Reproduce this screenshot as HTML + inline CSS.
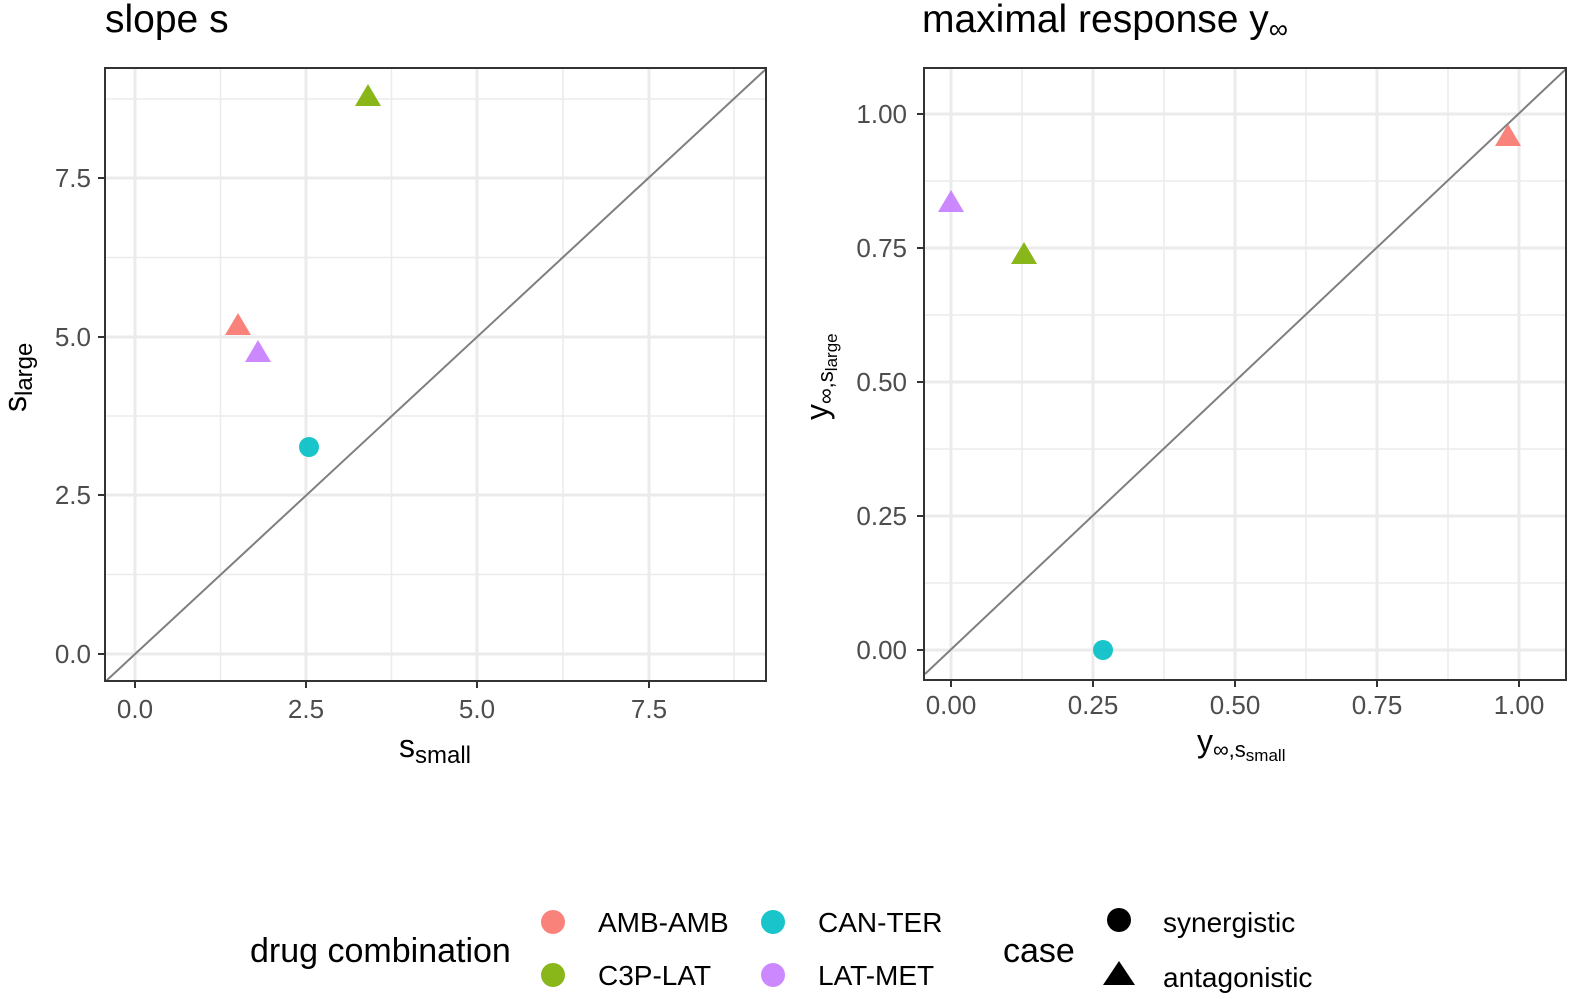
<!DOCTYPE html>
<html><head><meta charset="utf-8"><style>body{margin:0;background:#fff}svg{display:block}text{font-family:"Liberation Sans",sans-serif}</style></head><body>
<svg width="1577" height="1000" viewBox="0 0 1577 1000" xmlns="http://www.w3.org/2000/svg">
<rect width="1577" height="1000" fill="#fff"/>
<!-- Left panel -->
<text x="105" y="32" font-size="39" fill="#000">slope s</text>
<g stroke="#ebebeb" stroke-width="1.5">
<line x1="220.5" y1="69" x2="220.5" y2="681"/><line x1="391.5" y1="69" x2="391.5" y2="681"/><line x1="563" y1="69" x2="563" y2="681"/><line x1="734" y1="69" x2="734" y2="681"/>
<line x1="106" y1="574.5" x2="766" y2="574.5"/><line x1="106" y1="416" x2="766" y2="416"/><line x1="106" y1="257.5" x2="766" y2="257.5"/><line x1="106" y1="99" x2="766" y2="99"/>
</g>
<g stroke="#ebebeb" stroke-width="3">
<line x1="135" y1="69" x2="135" y2="681"/><line x1="306" y1="69" x2="306" y2="681"/><line x1="477" y1="69" x2="477" y2="681"/><line x1="649" y1="69" x2="649" y2="681"/>
<line x1="106" y1="654" x2="766" y2="654"/><line x1="106" y1="495" x2="766" y2="495"/><line x1="106" y1="337" x2="766" y2="337"/><line x1="106" y1="178" x2="766" y2="178"/>
</g>
<line x1="106" y1="681" x2="766" y2="69" stroke="#7f7f7f" stroke-width="2"/>
<polygon points="238,313 251,335 225,335" fill="#F8766D" opacity="0.9"/>
<polygon points="258,340 271,362 245,362" fill="#C77CFF" opacity="0.9"/>
<polygon points="368,84 381,106 355,106" fill="#7CAE00" opacity="0.9"/>
<circle cx="309" cy="447" r="10" fill="#00BFC4" opacity="0.9"/>
<rect x="105" y="68" width="661" height="613" fill="none" stroke="#333" stroke-width="2"/>
<g stroke="#333" stroke-width="2"><line x1="135" y1="681" x2="135" y2="688"/><line x1="306" y1="681" x2="306" y2="688"/><line x1="477" y1="681" x2="477" y2="688"/><line x1="649" y1="681" x2="649" y2="688"/>
<line x1="98" y1="654" x2="105" y2="654"/><line x1="98" y1="495" x2="105" y2="495"/><line x1="98" y1="337" x2="105" y2="337"/><line x1="98" y1="178" x2="105" y2="178"/></g>
<g font-size="26" fill="#4d4d4d" text-anchor="middle"><text x="135" y="718">0.0</text><text x="306" y="718">2.5</text><text x="477" y="718">5.0</text><text x="649" y="718">7.5</text></g>
<g font-size="26" fill="#4d4d4d" text-anchor="end"><text x="91" y="663">0.0</text><text x="91" y="504">2.5</text><text x="91" y="346">5.0</text><text x="91" y="187">7.5</text></g>
<text x="399" y="757" font-size="32">s<tspan font-size="24" dy="6">small</tspan></text>
<text transform="translate(26,412) rotate(-90)" font-size="32">s<tspan font-size="24" dy="6">large</tspan></text>
<!-- Right panel -->
<text x="922" y="32" font-size="39" fill="#000">maximal response y<tspan font-size="27" dy="6">∞</tspan></text>
<g stroke="#ebebeb" stroke-width="1.5">
<line x1="1022" y1="69" x2="1022" y2="680"/><line x1="1164" y1="69" x2="1164" y2="680"/><line x1="1306" y1="69" x2="1306" y2="680"/><line x1="1448" y1="69" x2="1448" y2="680"/>
<line x1="925" y1="583" x2="1566" y2="583"/><line x1="925" y1="449" x2="1566" y2="449"/><line x1="925" y1="315" x2="1566" y2="315"/><line x1="925" y1="181" x2="1566" y2="181"/>
</g>
<g stroke="#ebebeb" stroke-width="3">
<line x1="951" y1="69" x2="951" y2="680"/><line x1="1093" y1="69" x2="1093" y2="680"/><line x1="1235" y1="69" x2="1235" y2="680"/><line x1="1377" y1="69" x2="1377" y2="680"/><line x1="1519" y1="69" x2="1519" y2="680"/>
<line x1="925" y1="650" x2="1566" y2="650"/><line x1="925" y1="516" x2="1566" y2="516"/><line x1="925" y1="382" x2="1566" y2="382"/><line x1="925" y1="248" x2="1566" y2="248"/><line x1="925" y1="114" x2="1566" y2="114"/>
</g>
<line x1="925" y1="674" x2="1566" y2="69" stroke="#7f7f7f" stroke-width="2"/>
<polygon points="1508,124 1521,146 1495,146" fill="#F8766D" opacity="0.9"/>
<polygon points="951,190 964,212 938,212" fill="#C77CFF" opacity="0.9"/>
<polygon points="1024,242 1037,264 1011,264" fill="#7CAE00" opacity="0.9"/>
<circle cx="1103" cy="650" r="10" fill="#00BFC4" opacity="0.9"/>
<rect x="924" y="68" width="642" height="612" fill="none" stroke="#333" stroke-width="2"/>
<g stroke="#333" stroke-width="2"><line x1="951" y1="680" x2="951" y2="687"/><line x1="1093" y1="680" x2="1093" y2="687"/><line x1="1235" y1="680" x2="1235" y2="687"/><line x1="1377" y1="680" x2="1377" y2="687"/><line x1="1519" y1="680" x2="1519" y2="687"/>
<line x1="917" y1="650" x2="924" y2="650"/><line x1="917" y1="516" x2="924" y2="516"/><line x1="917" y1="382" x2="924" y2="382"/><line x1="917" y1="248" x2="924" y2="248"/><line x1="917" y1="114" x2="924" y2="114"/></g>
<g font-size="26" fill="#4d4d4d" text-anchor="middle"><text x="951" y="714">0.00</text><text x="1093" y="714">0.25</text><text x="1235" y="714">0.50</text><text x="1377" y="714">0.75</text><text x="1519" y="714">1.00</text></g>
<g font-size="26" fill="#4d4d4d" text-anchor="end"><text x="907" y="659">0.00</text><text x="907" y="525">0.25</text><text x="907" y="391">0.50</text><text x="907" y="257">0.75</text><text x="907" y="123">1.00</text></g>
<text x="1197" y="752" font-size="32">y<tspan font-size="22" dy="5">∞,s</tspan><tspan font-size="17" dy="4">small</tspan></text>
<text transform="translate(828,420) rotate(-90)" font-size="32">y<tspan font-size="22" dy="5">∞,s</tspan><tspan font-size="17" dy="4">large</tspan></text>
<!-- Legend -->
<text x="250" y="962" font-size="34">drug combination</text>
<circle cx="553" cy="922" r="12" fill="#F8766D" opacity="0.9"/><text x="598" y="932" font-size="28">AMB-AMB</text>
<circle cx="553" cy="975" r="12" fill="#7CAE00" opacity="0.9"/><text x="598" y="985" font-size="28">C3P-LAT</text>
<circle cx="773" cy="922" r="12" fill="#00BFC4" opacity="0.9"/><text x="818" y="932" font-size="28">CAN-TER</text>
<circle cx="773" cy="975" r="12" fill="#C77CFF" opacity="0.9"/><text x="818" y="985" font-size="28">LAT-MET</text>
<text x="1003" y="962" font-size="34">case</text>
<circle cx="1119" cy="920" r="12" fill="#000"/><text x="1163" y="932" font-size="28">synergistic</text>
<polygon points="1119,961 1135,985 1103,985" fill="#000"/><text x="1163" y="987" font-size="28">antagonistic</text>
</svg>
</body></html>
